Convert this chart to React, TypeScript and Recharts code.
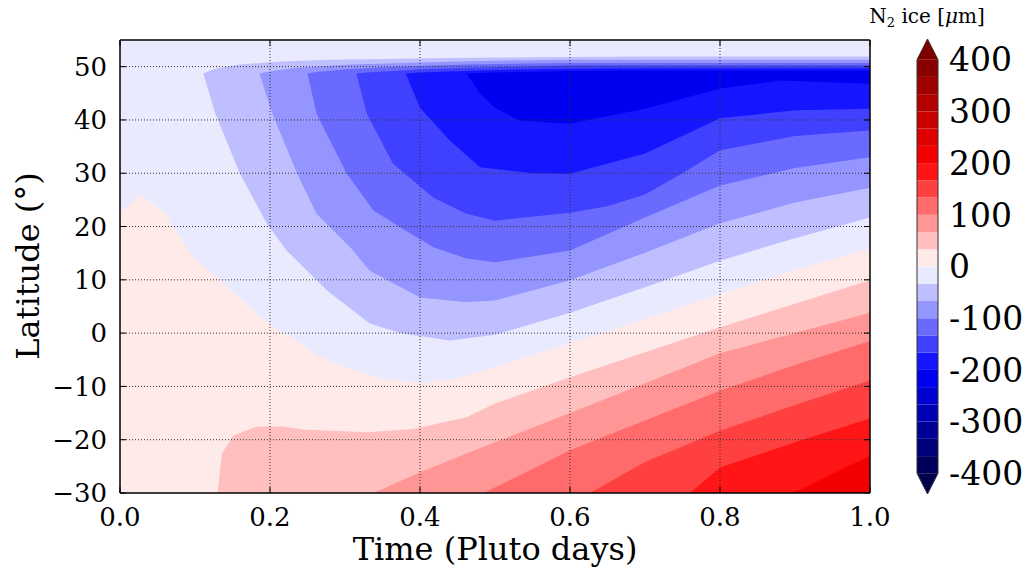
import {
  Area,
  ComposedChart,
  CartesianGrid,
  Line,
  ReferenceArea,
  ReferenceLine,
  XAxis,
  YAxis
} from "recharts";

type Pocket = { t: number; lo: number; hi: number };
type Front = { t: number; y: number };

// contour levels of the colour bar (µm)
const levels = [
  -400, -366.7, -333.3, -300, -266.7, -233.3, -200, -166.7, -133.3, -100, -66.7, -33.3, 0,
  33.3, 66.7, 100, 133.3, 166.7, 200, 233.3, 266.7, 300, 333.3, 366.7, 400
];
const cbarTicks = [-400, -300, -200, -100, 0, 100, 200, 300, 400];
const timeTicks = [0, 0.2, 0.4, 0.6, 0.8, 1.0];
const latTicks = [-30, -20, -10, 0, 10, 20, 30, 40, 50];

// sublimation pockets (ice < level), lower and upper latitude edge
const below33: Pocket[] = [
  { t: 0.111, lo: 48.7, hi: 48.7 },
  { t: 0.127, lo: 41.2, hi: 49.6 },
  { t: 0.16, lo: 29.9, hi: 50.4 },
  { t: 0.196, lo: 20.5, hi: 50.8 },
  { t: 0.222, lo: 15.5, hi: 51.0 },
  { t: 0.276, lo: 8.0, hi: 51.3 },
  { t: 0.333, lo: 1.8, hi: 51.4 },
  { t: 0.373, lo: 0.0, hi: 51.5 },
  { t: 0.44, lo: -1.4, hi: 51.6 },
  { t: 0.5, lo: -0.3, hi: 51.7 },
  { t: 0.6, lo: 3.8, hi: 51.8 },
  { t: 0.7, lo: 8.6, hi: 51.9 },
  { t: 0.8, lo: 13.6, hi: 51.9 },
  { t: 0.9, lo: 17.8, hi: 51.9 },
  { t: 1.0, lo: 21.7, hi: 51.9 }
];
const below67: Pocket[] = [
  { t: 0.186, lo: 48.7, hi: 48.7 },
  { t: 0.203, lo: 41.2, hi: 49.2 },
  { t: 0.236, lo: 30.0, hi: 49.8 },
  { t: 0.262, lo: 22.4, hi: 50.0 },
  { t: 0.307, lo: 16.1, hi: 50.4 },
  { t: 0.333, lo: 11.7, hi: 50.5 },
  { t: 0.4, lo: 6.7, hi: 50.8 },
  { t: 0.462, lo: 5.8, hi: 51.0 },
  { t: 0.5, lo: 6.1, hi: 51.1 },
  { t: 0.6, lo: 9.9, hi: 51.3 },
  { t: 0.7, lo: 15.1, hi: 51.3 },
  { t: 0.8, lo: 20.6, hi: 51.3 },
  { t: 0.9, lo: 24.5, hi: 51.3 },
  { t: 1.0, lo: 27.3, hi: 51.3 }
];
const below100: Pocket[] = [
  { t: 0.25, lo: 48.7, hi: 48.7 },
  { t: 0.262, lo: 41.2, hi: 49.0 },
  { t: 0.302, lo: 30.0, hi: 49.5 },
  { t: 0.338, lo: 23.0, hi: 49.8 },
  { t: 0.373, lo: 19.9, hi: 50.0 },
  { t: 0.418, lo: 16.1, hi: 50.2 },
  { t: 0.462, lo: 14.0, hi: 50.4 },
  { t: 0.5, lo: 13.3, hi: 50.5 },
  { t: 0.6, lo: 15.5, hi: 50.7 },
  { t: 0.7, lo: 21.7, hi: 50.7 },
  { t: 0.8, lo: 27.7, hi: 50.7 },
  { t: 0.9, lo: 31.0, hi: 50.7 },
  { t: 1.0, lo: 33.0, hi: 50.7 }
];
const below133: Pocket[] = [
  { t: 0.315, lo: 48.7, hi: 48.7 },
  { t: 0.329, lo: 41.2, hi: 48.9 },
  { t: 0.364, lo: 31.8, hi: 49.2 },
  { t: 0.391, lo: 28.6, hi: 49.4 },
  { t: 0.418, lo: 25.4, hi: 49.6 },
  { t: 0.462, lo: 22.4, hi: 49.8 },
  { t: 0.5, lo: 21.1, hi: 49.9 },
  { t: 0.6, lo: 22.6, hi: 50.2 },
  { t: 0.65, lo: 23.8, hi: 50.2 },
  { t: 0.7, lo: 26.0, hi: 50.2 },
  { t: 0.75, lo: 30.0, hi: 50.2 },
  { t: 0.8, lo: 34.3, hi: 50.2 },
  { t: 0.9, lo: 37.0, hi: 50.2 },
  { t: 1.0, lo: 38.0, hi: 50.2 }
];
const below167: Pocket[] = [
  { t: 0.381, lo: 48.7, hi: 48.7 },
  { t: 0.4, lo: 42.3, hi: 48.9 },
  { t: 0.44, lo: 36.1, hi: 49.1 },
  { t: 0.48, lo: 31.1, hi: 49.3 },
  { t: 0.55, lo: 30.0, hi: 49.5 },
  { t: 0.6, lo: 29.9, hi: 49.6 },
  { t: 0.7, lo: 33.7, hi: 49.7 },
  { t: 0.8, lo: 40.3, hi: 49.7 },
  { t: 0.9, lo: 41.8, hi: 49.7 },
  { t: 1.0, lo: 42.1, hi: 49.7 }
];
const below200: Pocket[] = [
  { t: 0.462, lo: 48.7, hi: 48.7 },
  { t: 0.48, lo: 45.0, hi: 48.8 },
  { t: 0.5, lo: 42.3, hi: 48.9 },
  { t: 0.533, lo: 39.9, hi: 49.0 },
  { t: 0.6, lo: 39.3, hi: 49.2 },
  { t: 0.667, lo: 41.2, hi: 49.3 },
  { t: 0.7, lo: 42.1, hi: 49.3 },
  { t: 0.8, lo: 45.9, hi: 49.3 },
  { t: 0.88, lo: 47.4, hi: 49.3 },
  { t: 1.0, lo: 46.8, hi: 49.3 }
];

// condensation fronts (ice > level), upper latitude edge from the bottom
const above0: Front[] = [
  { t: 0, y: 22.6 },
  { t: 0.027, y: 26.0 },
  { t: 0.062, y: 22.4 },
  { t: 0.071, y: 19.9 },
  { t: 0.098, y: 14.2 },
  { t: 0.129, y: 10.5 },
  { t: 0.173, y: 4.8 },
  { t: 0.204, y: 1.1 },
  { t: 0.236, y: -1.4 },
  { t: 0.262, y: -4.2 },
  { t: 0.3, y: -6.4 },
  { t: 0.35, y: -8.5 },
  { t: 0.4, y: -9.4 },
  { t: 0.45, y: -8.4 },
  { t: 0.5, y: -6.4 },
  { t: 0.6, y: -1.9 },
  { t: 0.7, y: 2.7 },
  { t: 0.8, y: 7.4 },
  { t: 0.9, y: 11.8 },
  { t: 1.0, y: 15.9 }
];
const above33: Front[] = [
  { t: 0.13, y: -30 },
  { t: 0.136, y: -22.6 },
  { t: 0.151, y: -19.2 },
  { t: 0.183, y: -17.5 },
  { t: 0.217, y: -17.5 },
  { t: 0.244, y: -18.1 },
  { t: 0.329, y: -18.6 },
  { t: 0.391, y: -18.0 },
  { t: 0.462, y: -15.8 },
  { t: 0.5, y: -13.2 },
  { t: 0.6, y: -8.3 },
  { t: 0.7, y: -3.6 },
  { t: 0.8, y: 1.1 },
  { t: 0.9, y: 5.5 },
  { t: 1.0, y: 9.9 }
];
const above67: Front[] = [
  { t: 0.338, y: -30 },
  { t: 0.4, y: -26.1 },
  { t: 0.462, y: -22.6 },
  { t: 0.5, y: -20.5 },
  { t: 0.6, y: -15.0 },
  { t: 0.7, y: -9.4 },
  { t: 0.8, y: -3.8 },
  { t: 0.9, y: 0.0 },
  { t: 1.0, y: 3.8 }
];
const above100: Front[] = [
  { t: 0.485, y: -30 },
  { t: 0.6, y: -22.0 },
  { t: 0.7, y: -16.4 },
  { t: 0.8, y: -10.8 },
  { t: 0.9, y: -6.0 },
  { t: 1.0, y: -1.5 }
];
const above133: Front[] = [
  { t: 0.627, y: -30 },
  { t: 0.7, y: -24.2 },
  { t: 0.8, y: -18.3 },
  { t: 0.9, y: -13.5 },
  { t: 1.0, y: -8.9 }
];
const above167: Front[] = [
  { t: 0.76, y: -30 },
  { t: 0.8, y: -25.2 },
  { t: 0.9, y: -20.5 },
  { t: 1.0, y: -16.0 }
];
const above200: Front[] = [
  { t: 0.897, y: -30 },
  { t: 1.0, y: -23.0 }
];

// colour bar extension arrows and outline
const arrowUp = [
  { x: 0, lo: 400, hi: 400 },
  { x: 0.5, lo: 400, hi: 440 },
  { x: 1, lo: 400, hi: 400 }
];
const arrowDown = [
  { x: 0, lo: -400, hi: -400 },
  { x: 0.5, lo: -440, hi: -400 },
  { x: 1, lo: -400, hi: -400 }
];
const cbarOutline = [
  { x: 0, v: 400 },
  { x: 0.5, v: 440 },
  { x: 1, v: 400 },
  { x: 1, v: -400 },
  { x: 0.5, v: -440 },
  { x: 0, v: -400 },
  { x: 0, v: 400 }
];

// matplotlib "seismic"
function seismic(v: number) {
  const n = Math.min(1, Math.max(0, (v + 400) / 800));
  let r: number, g: number, b: number;
  if (n < 0.25) {
    r = 0; g = 0; b = 0.3 + 0.7 * (n / 0.25);
  } else if (n < 0.5) {
    r = (n - 0.25) / 0.25; g = r; b = 1;
  } else if (n < 0.75) {
    r = 1; g = 1 - (n - 0.5) / 0.25; b = g;
  } else {
    r = 1 - 0.5 * ((n - 0.75) / 0.25); g = 0; b = 0;
  }
  const c = (x: number) => Math.round(x * 255);
  return `rgb(${c(r)},${c(g)},${c(b)})`;
}

const bandColor = (i: number) => seismic((levels[i] + levels[i + 1]) / 2);

const pockets = [below33, below67, below100, below133, below167, below200];
const fronts = [above0, above33, above67, above100, above133, above167, above200];

const FONT = '"DejaVu Serif", serif';
const tickX = 6 / 750;
const tickY = (85 * 6) / 453;

const fmtLat = (v: number) => (v < 0 ? `\u2212${Math.abs(v)}` : `${v}`);
const fmtCbar = (v: number) => (v < 0 ? `-${Math.abs(v)}` : `${v}`);

export default function App() {
  return (
    <div
      style={{
        position: "absolute",
        left: 0,
        top: 0,
        width: 1028,
        height: 576,
        background: "#fff",
        fontFamily: FONT,
        color: "#000"
      }}
    >
      <div style={{ position: "absolute", left: 0, top: 0 }}>
        <ComposedChart width={900} height={576} margin={{ top: 40, right: 30, bottom: 23, left: 50 }}>
          <CartesianGrid horizontal={false} vertical={false} fill={bandColor(11)} stroke="none" />
          <XAxis
            type="number"
            dataKey="t"
            domain={[0, 1]}
            ticks={timeTicks}
            tickFormatter={(v: number) => v.toFixed(1)}
            height={60}
            axisLine={false}
            tickLine={false}
            tickSize={0}
            tickMargin={15}
            tick={{ fill: "#000", fontSize: 26, fontFamily: FONT }}
            allowDataOverflow
          />
          <YAxis
            type="number"
            domain={[-30, 55]}
            ticks={latTicks}
            tickFormatter={fmtLat}
            width={70}
            axisLine={false}
            tickLine={false}
            tickSize={0}
            tickMargin={13}
            tick={{ fill: "#000", fontSize: 26, fontFamily: FONT }}
            allowDataOverflow
          />
          {fronts.map((d, i) => (
            <Area
              key={`f${i}`}
              data={d}
              dataKey="y"
              baseValue={-30}
              type="linear"
              stroke="none"
              fill={bandColor(12 + i)}
              fillOpacity={1}
              dot={false}
              activeDot={false}
              isAnimationActive={false}
            />
          ))}
          {pockets.map((d, i) => (
            <Area
              key={`p${i}`}
              data={d}
              dataKey={(p: Pocket) => [p.lo, p.hi]}
              type="linear"
              stroke="none"
              fill={bandColor(10 - i)}
              fillOpacity={1}
              dot={false}
              activeDot={false}
              isAnimationActive={false}
            />
          ))}
          {timeTicks.slice(1, -1).map((x) => (
            <ReferenceLine key={`gx${x}`} x={x} stroke="#333" strokeDasharray="1 2" strokeWidth={1} />
          ))}
          {latTicks.slice(1).map((y) => (
            <ReferenceLine key={`gy${y}`} y={y} stroke="#333" strokeDasharray="1 2" strokeWidth={1} />
          ))}
          {timeTicks.map((x) => (
            <ReferenceLine key={`tb${x}`} segment={[{ x, y: -30 }, { x, y: -30 + tickY }]} stroke="#000" />
          ))}
          {timeTicks.map((x) => (
            <ReferenceLine key={`tt${x}`} segment={[{ x, y: 55 }, { x, y: 55 - tickY }]} stroke="#000" />
          ))}
          {latTicks.map((y) => (
            <ReferenceLine key={`tl${y}`} segment={[{ x: 0, y }, { x: tickX, y }]} stroke="#000" />
          ))}
          {latTicks.map((y) => (
            <ReferenceLine key={`tr${y}`} segment={[{ x: 1, y }, { x: 1 - tickX, y }]} stroke="#000" />
          ))}
          <ReferenceLine x={0} stroke="#000" strokeWidth={1.5} />
          <ReferenceLine x={1} stroke="#000" strokeWidth={1.5} />
          <ReferenceLine y={-30} stroke="#000" strokeWidth={1.5} />
          <ReferenceLine y={55} stroke="#000" strokeWidth={1.5} />
        </ComposedChart>
      </div>

      <div style={{ position: "absolute", left: 870, top: 0 }}>
        <ComposedChart width={158} height={576} margin={{ top: 39, right: 0, bottom: 82, left: 47 }}>
          <XAxis type="number" dataKey="x" domain={[0, 1]} hide height={0} />
          <YAxis
            type="number"
            orientation="right"
            domain={[-440, 440]}
            ticks={cbarTicks}
            tickFormatter={fmtCbar}
            width={90}
            axisLine={false}
            tickLine={false}
            tickSize={0}
            tickMargin={11}
            tick={{ fill: "#000", fontSize: 33, fontFamily: FONT }}
          />
          {levels.slice(0, -1).map((lv, i) => (
            <ReferenceArea
              key={`cb${i}`}
              x1={0}
              x2={1}
              y1={lv}
              y2={levels[i + 1]}
              fill={bandColor(i)}
              fillOpacity={1}
              stroke="none"
            />
          ))}
          <Area
            data={arrowUp}
            dataKey={(p: { lo: number; hi: number }) => [p.lo, p.hi]}
            type="linear"
            stroke="none"
            fill={seismic(440)}
            fillOpacity={1}
            dot={false}
            activeDot={false}
            isAnimationActive={false}
          />
          <Area
            data={arrowDown}
            dataKey={(p: { lo: number; hi: number }) => [p.lo, p.hi]}
            type="linear"
            stroke="none"
            fill={seismic(-440)}
            fillOpacity={1}
            dot={false}
            activeDot={false}
            isAnimationActive={false}
          />
          <Line
            data={cbarOutline}
            dataKey="v"
            type="linear"
            stroke="#333"
            strokeWidth={1}
            dot={false}
            activeDot={false}
            isAnimationActive={false}
          />
        </ComposedChart>
      </div>

      <div
        style={{
          position: "absolute",
          left: 495,
          top: 533,
          transform: "translateX(-50%)",
          fontSize: 32,
          lineHeight: "32px",
          whiteSpace: "nowrap"
        }}
      >
        Time (Pluto days)
      </div>
      <div
        style={{
          position: "absolute",
          left: 28,
          top: 266,
          transform: "translate(-50%, -50%) rotate(-90deg)",
          fontSize: 32,
          lineHeight: "32px",
          whiteSpace: "nowrap"
        }}
      >
        Latitude (°)
      </div>
      <div
        style={{
          position: "absolute",
          left: 927,
          top: 6,
          transform: "translateX(-50%)",
          fontSize: 20,
          lineHeight: "20px",
          whiteSpace: "nowrap"
        }}
      >
        N<span style={{ fontSize: 13, verticalAlign: "-4px" }}>2</span> ice [<i>μ</i>m]
      </div>
    </div>
  );
}
